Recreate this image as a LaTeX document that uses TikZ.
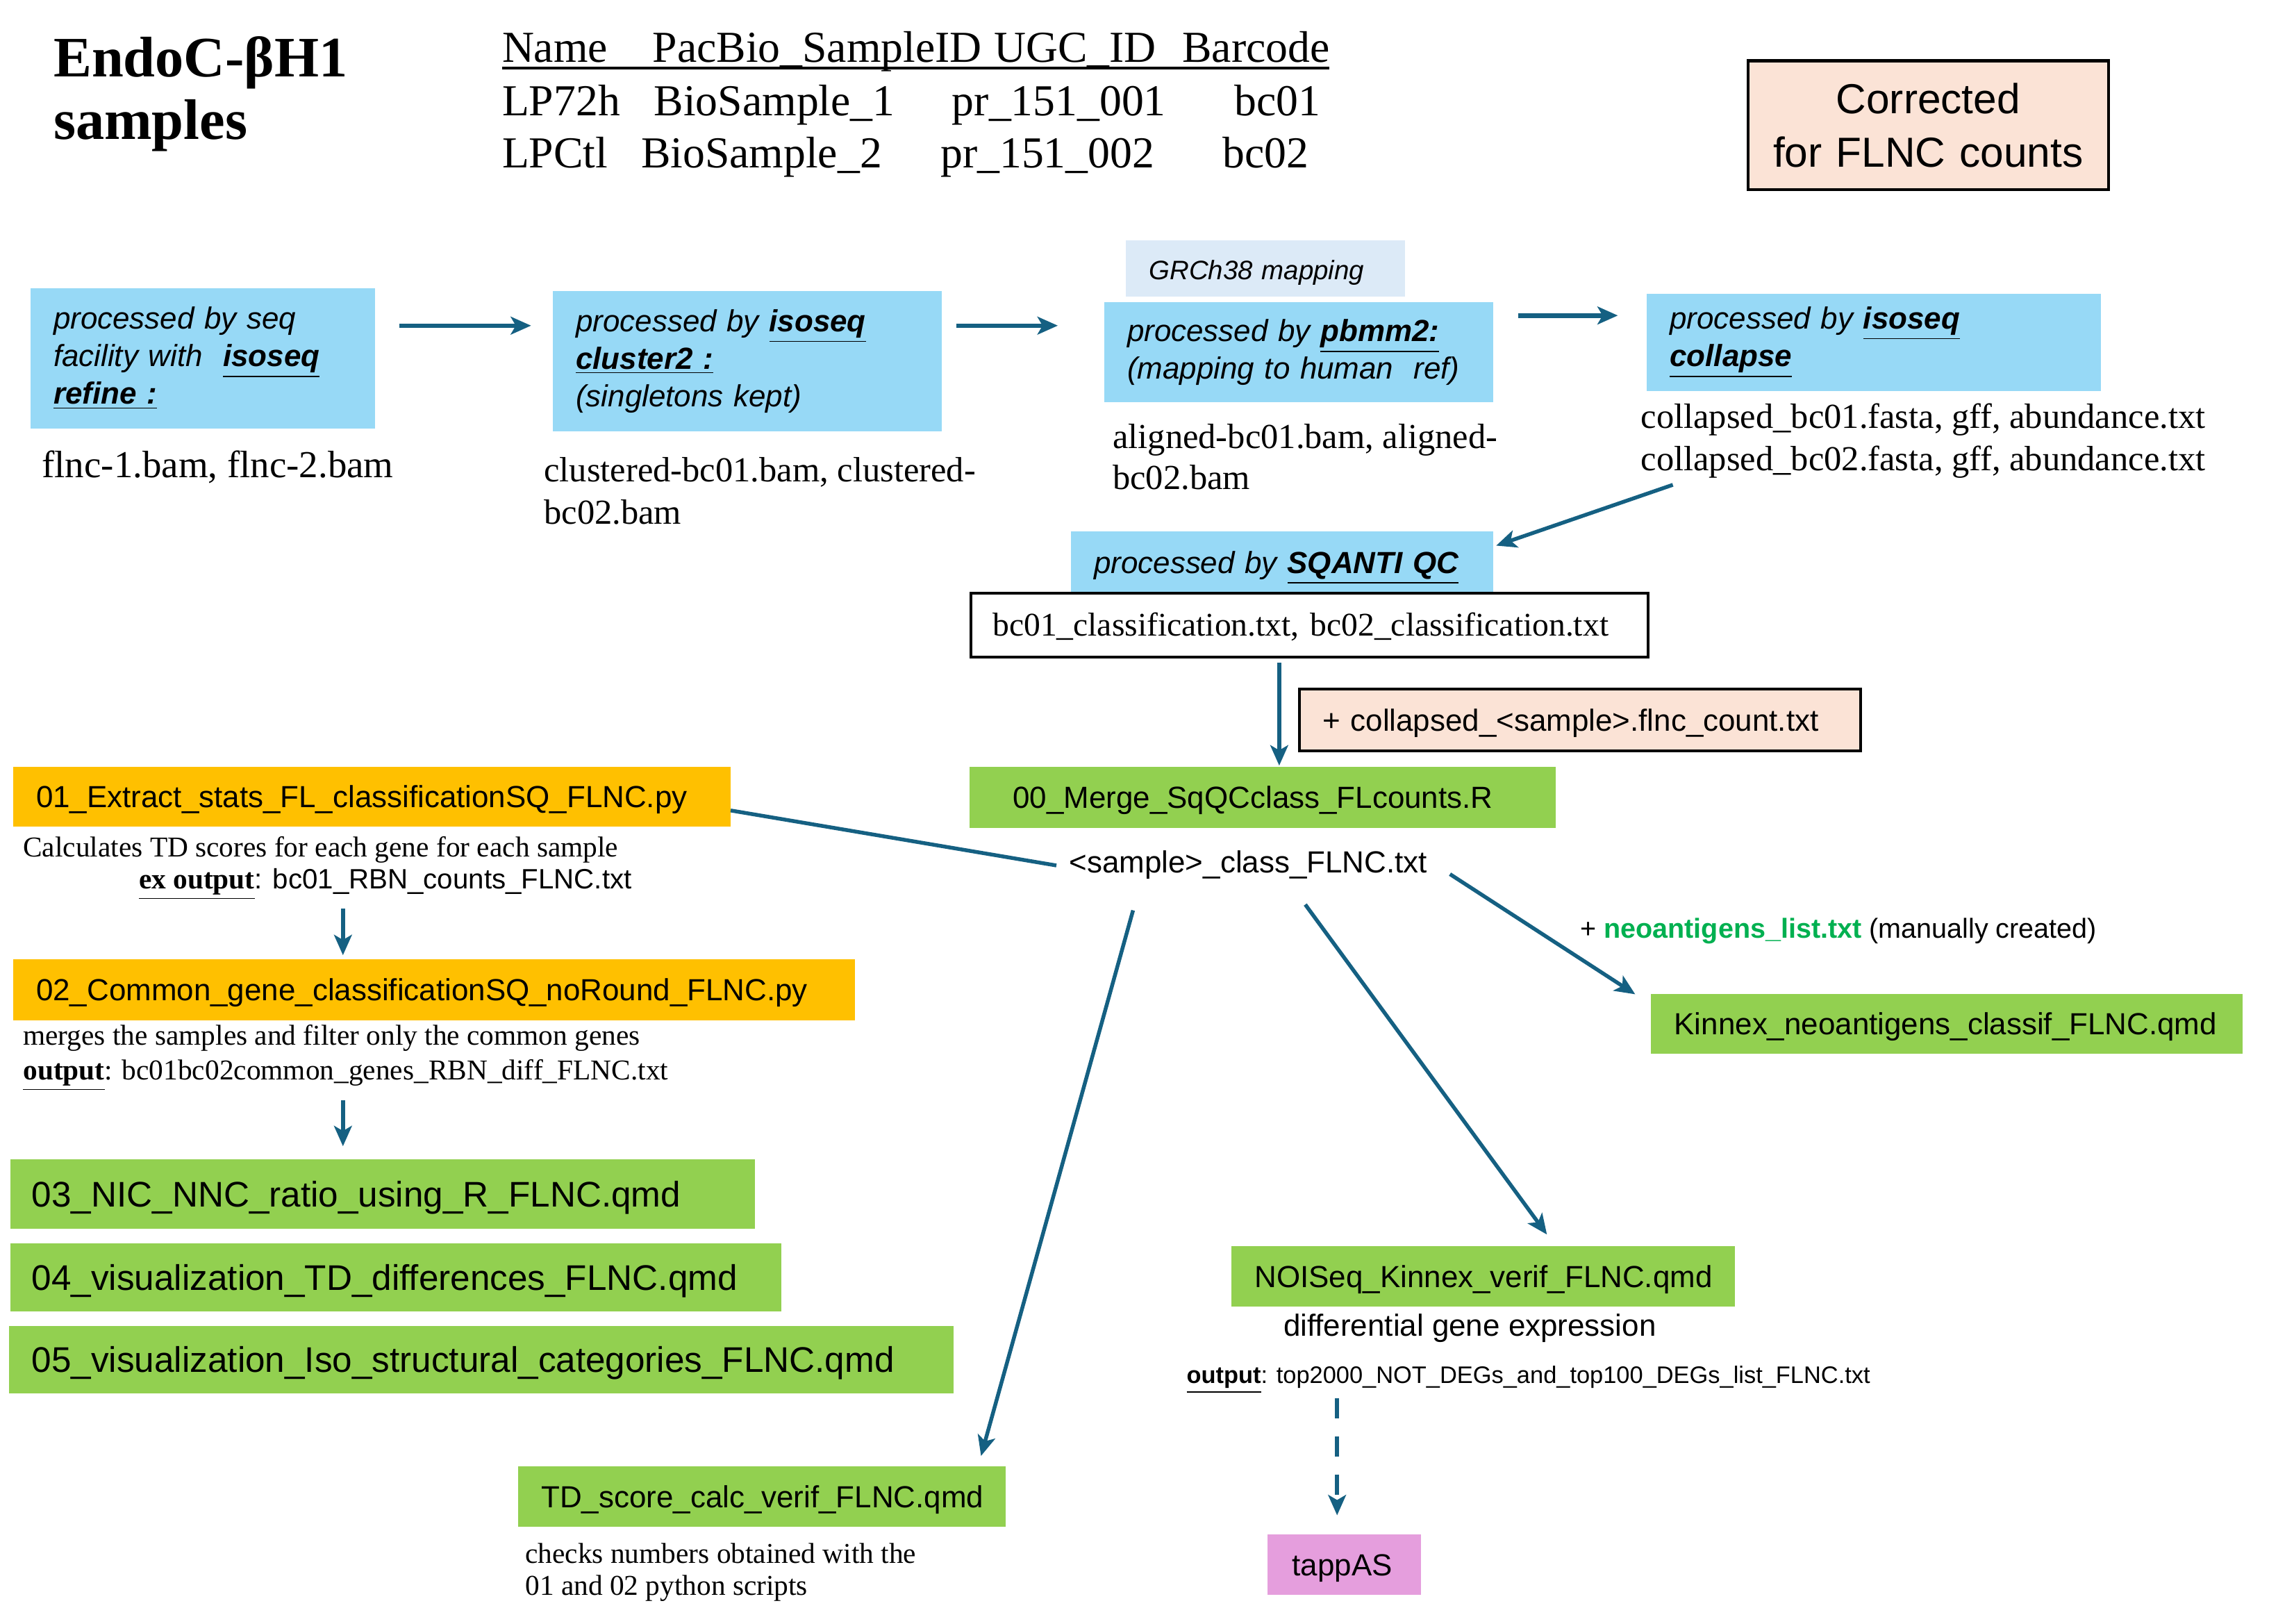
\documentclass[tikz,border=0pt]{standalone}
\usepackage{fontspec}
\setmainfont{Liberation Serif}
\setsansfont{Liberation Sans}
\usetikzlibrary{arrows.meta}
\definecolor{arrowc}{HTML}{156082}
\definecolor{boxblue}{HTML}{97D9F6}
\definecolor{paleblue}{HTML}{DCEAF7}
\definecolor{peach}{HTML}{FBE3D6}
\definecolor{leaf}{HTML}{92D050}
\definecolor{amber}{HTML}{FFC000}
\definecolor{orchid}{HTML}{E59EDD}
\definecolor{neogreen}{HTML}{00B050}
\newcommand\fsz[2]{\fontsize{#1}{#2}\selectfont}
\newcommand\bu[1]{\textbf{\underline{#1}}}
\tikzset{
 bx/.style={anchor=north west, inner ysep=0pt, outer sep=0pt, align=left},
 sz/.style n args={4}{minimum width=#1cm, minimum height=#2cm, inner xsep=#3cm, text width=#4cm},
 one/.style={text height=10.6pt, text depth=2pt},
 onebig/.style={text height=12pt, text depth=2pt},
 bluebox/.style={bx, fill=boxblue, font=\sffamily\itshape\fsz{12}{14.8}},
 greenbox/.style={bx, fill=leaf, font=\sffamily\fsz{12}{14}, one},
 bigbox/.style={bx, fill=leaf, font=\sffamily\fsz{14}{16}, onebig},
 orangebox/.style={bx, fill=amber, font=\sffamily\fsz{12}{14}, one},
 framed/.style={bx, draw=black, line width=1.1pt},
 txt/.style={anchor=base west, inner sep=0pt, outer sep=0pt},
 filetxt/.style={txt, font=\rmfamily\fsz{13.8}{16}},
 note/.style={txt, font=\rmfamily\fsz{11.3}{13}},
 sans/.style={txt, font=\sffamily\fsz{12}{14}},
 tab/.style={txt, font=\rmfamily\fsz{17.4}{20}},
 ttl/.style={txt, font=\rmfamily\bfseries\fsz{22.5}{27}},
 arr/.style={draw=arrowc, line width=1.5pt, -{Stealth[length=8pt,width=7pt,inset=2pt]}},
 harr/.style={arr, line width=1.8pt},
 plain/.style={draw=arrowc, line width=1.5pt},
}
\begin{document}
\begin{tikzpicture}[x=0.02cm,y=-0.02cm]
\useasboundingbox (0,0) rectangle (1568,1122);

% title and table
\node[ttl] (t1) at (37,53) {EndoC-βH1};
\node[ttl] (t2) at (37,96) {samples};
\node[tab] (hn) at (347,43) {Name};
\node[tab] (hp) at (451,43) {PacBio\_SampleID};
\node[tab] (hu) at (687,43) {UGC\_ID};
\node[tab] (hb) at (817,43) {Barcode};
\node[tab] (r1a) at (347,80) {LP72h};
\node[tab] (r1b) at (452,80) {BioSample\_1};
\node[tab] (r1c) at (658,80) {pr\_151\_001};
\node[tab] (r1d) at (853,80) {bc01};
\node[tab] (r2a) at (347,116) {LPCtl};
\node[tab] (r2b) at (443,116) {BioSample\_2};
\node[tab] (r2c) at (650,116) {pr\_151\_002};
\node[tab] (r2d) at (845,116) {bc02};
\draw[line width=1.2pt] ([shift={(0,4)}]hn.base west) -- ([shift={(0,4)}]hb.base east);

\node[framed, fill=peach, align=center, font=\sffamily\fsz{16.5}{21}, sz={4.98}{1.78}{0.1}{4.78}] (corr) at (1208,42) {Corrected\\for FLNC counts};

% top row of processing boxes
\node[bluebox, sz={4.76}{1.94}{0.32}{4.12}] (b1) at (21,199) {processed by seq\\facility with \ \bu{isoseq}\\\bu{refine :}};
\node[bluebox, sz={5.38}{1.94}{0.32}{4.74}] (b2) at (382,201) {processed by \bu{isoseq}\\\bu{cluster2 :}\\(singletons kept)};
\node[bx, fill=paleblue, font=\sffamily\itshape\fsz{10.5}{12}, one, sz={3.86}{0.78}{0.32}{3.22}] (grch) at (778,166) {GRCh38 mapping};
\node[bluebox, sz={5.38}{1.38}{0.32}{4.74}] (b3) at (763,209) {processed by \bu{pbmm2:}\\(mapping to human \ ref)};
\node[bluebox, sz={6.28}{1.34}{0.32}{5.64}] (b4) at (1138,203) {processed by \bu{isoseq}\\\bu{collapse}};

\node[filetxt, font=\rmfamily\fsz{15}{17}] (flnc) at (29,330) {flnc-1.bam, flnc-2.bam};
\node[filetxt] (clu1) at (376,333) {clustered-bc01.bam, clustered-};
\node[filetxt] (clu2) at (376,362) {bc02.bam};
\node[filetxt] (al1) at (769,310) {aligned-bc01.bam, aligned-};
\node[filetxt] (al2) at (769,338) {bc02.bam};
\node[filetxt] (col1) at (1134,296) {collapsed\_bc01.fasta, gff, abundance.txt};
\node[filetxt] (col2) at (1134,325) {collapsed\_bc02.fasta, gff, abundance.txt};

% SQANTI
\node[bluebox, one, sz={5.84}{0.86}{0.32}{5.2}] (sq) at (740,367) {processed by \bu{SQANTI QC}};
\node[framed, fill=white, font=\rmfamily\fsz{13}{15}, one, sz={9.36}{0.88}{0.3}{8.76}] (cls) at (671,410) {bc01\_classification.txt, bc02\_classification.txt};
\node[framed, fill=peach, font=\sffamily\fsz{12}{14}, one, sz={7.76}{0.86}{0.32}{7.12}] (fc) at (898,476) {+ collapsed\_\textless sample\textgreater.flnc\_count.txt};
\node[greenbox, sz={8.1}{0.84}{0.6}{6.9}] (merge) at (670,530) {00\_Merge\_SqQCclass\_FLcounts.R};
\node[sans] (samp) at (739,603) {\textless sample\textgreater\_class\_FLNC.txt};

% left column
\node[orangebox, sz={9.92}{0.82}{0.32}{9.28}] (o1) at (9,530) {01\_Extract\_stats\_FL\_classificationSQ\_FLNC.py};
\node[note] (calc) at (16,592) {Calculates TD scores for each gene for each sample};
\node[note] (exout) at (96,614) {\textbf{\underline{ex output}}{\sffamily\fsz{11}{13}: bc01\_RBN\_counts\_FLNC.txt}};
\node[orangebox, sz={11.64}{0.84}{0.32}{11.0}] (o2) at (9,663) {02\_Common\_gene\_classificationSQ\_noRound\_FLNC.py};
\node[note] (merges) at (16,722) {merges the samples and filter only the common genes};
\node[note] (out2) at (16,746) {\textbf{\underline{output}}: bc01bc02common\_genes\_RBN\_diff\_FLNC.txt};
\node[bigbox, sz={10.3}{0.96}{0.3}{9.7}] (g3) at (7,801) {03\_NIC\_NNC\_ratio\_using\_R\_FLNC.qmd};
\node[bigbox, sz={10.66}{0.94}{0.3}{10.06}] (g4) at (7,859) {04\_visualization\_TD\_differences\_FLNC.qmd};
\node[bigbox, sz={13.06}{0.94}{0.32}{12.42}] (g5) at (6,916) {05\_visualization\_Iso\_structural\_categories\_FLNC.qmd};

% right branches
\node[txt, font=\sffamily\fsz{10.8}{12}] (neo) at (1092,648) {+ \textcolor{neogreen}{\textbf{neoantigens\_list.txt}} (manually created)};
\node[greenbox, sz={8.18}{0.82}{0.32}{7.54}] (kin) at (1141,687) {Kinnex\_neoantigens\_classif\_FLNC.qmd};
\node[greenbox, sz={6.96}{0.84}{0.32}{6.32}] (noi) at (851,861) {NOISeq\_Kinnex\_verif\_FLNC.qmd};
\node[sans] (diff) at (887,923) {differential gene expression};
\node[txt, font=\sffamily\fsz{9.4}{11}] (out3) at (820,956) {\textbf{\underline{output}}: top2000\_NOT\_DEGs\_and\_top100\_DEGs\_list\_FLNC.txt};
\node[bx, fill=orchid, font=\sffamily\fsz{12}{14}, one, sz={2.12}{0.84}{0.34}{1.44}] (tap) at (876,1060) {tappAS};
\node[greenbox, sz={6.74}{0.84}{0.32}{6.1}] (td) at (358,1013) {TD\_score\_calc\_verif\_FLNC.qmd};
\node[note] (chk1) at (363,1080) {checks numbers obtained with the};
\node[note] (chk2) at (363,1102) {01 and 02 python scripts};

% connectors
\draw[harr] ([shift={(17,26)}]b1.north east) -- ([shift={(-15,24)}]b2.north west);
\draw[harr] ([shift={(10,24)}]b2.north east) -- ([shift={(-32,16)}]b3.north west);
\draw[harr] ([shift={(17,9)}]b3.north east) -- ([shift={(-20,15)}]b4.north west);
\draw[arr] ([shift={(22,10)}]col2.base west) -- ([shift={(2,10)}]sq.north east);
\draw[arr] ([shift={(213,4)}]cls.south west) -- ([shift={(214,-1)}]merge.north west);
\draw[plain] ([shift={(0,-11)}]o1.south east) -- ([shift={(-9,-5)}]samp.base west);
\draw[arr] ([shift={(263,1)}]samp.base west) -- ([shift={(-11,0)}]kin.north west);
\draw[arr] ([shift={(163,22)}]samp.base west) -- ([shift={(218,-8)}]noi.north west);
\draw[arr] ([shift={(44,26)}]samp.base west) -- ([shift={(-17,-7)}]td.north east);
\draw[arr, dash pattern=on 8pt off 7pt] ([shift={(104,10)}]out3.base west) -- ([shift={(48,-13)}]tap.north west);
\draw[arr] ([shift={(141,14)}]exout.base west) -- ([shift={(228,-3)}]o2.north west);
\draw[arr] ([shift={(221,14)}]out2.base west) -- ([shift={(230,-9)}]g3.north west);
\end{tikzpicture}
\end{document}
